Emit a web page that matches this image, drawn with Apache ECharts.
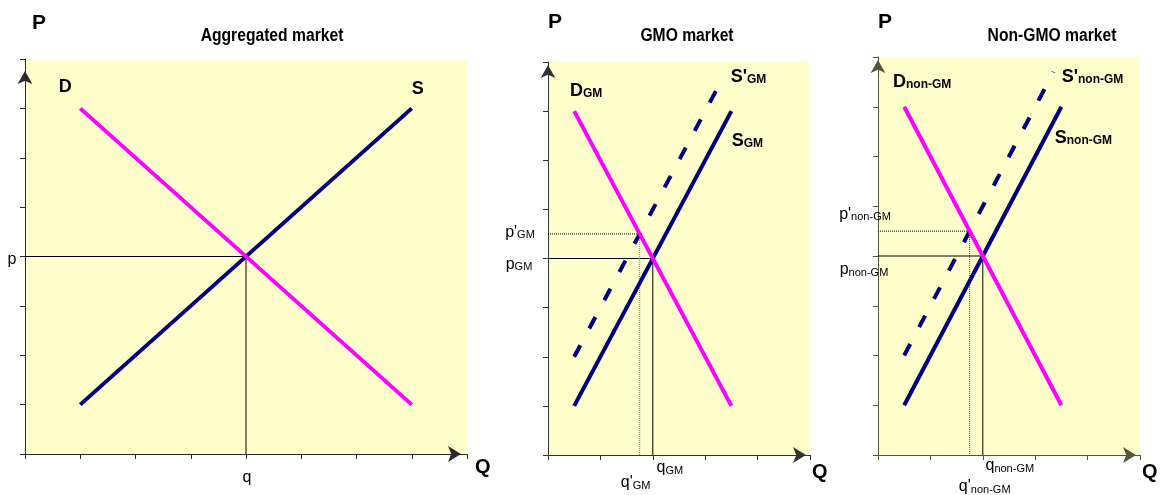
<!DOCTYPE html>
<html><head><meta charset="utf-8">
<script src="https://cdn.jsdelivr.net/npm/echarts@6/dist/echarts.min.js"></script>
<style>html,body{margin:0;padding:0;background:#fff}#c{width:1165px;height:495px}</style>
</head><body><div id="c"></div>
<script>
// ---------- data ----------
const titles = ['Aggregated market', 'GMO market', 'Non-GMO market'];
const xRanges = [[0, 8], [0, 5], [0, 5]];
const yRanges = [[0, 8], [0, 8], [0, 8]];

// Aggregated market
const aggDemand = [[1, 7], [7, 1]];
const aggSupply = [[1, 1], [7, 7]];
const aggEq = [4, 4];              // [q, p]
// GMO market
const gmDemand = [[0.5, 7], [3.5, 1]];
const gmSupply = [[0.5, 1], [3.5, 7]];
const gmSupplyShift = [[0.5, 2], [3.35, 7.7]];
const gmEq = [2, 4];
const gmEqShift = [1.75, 4.5];
// Non-GMO market
const ngDemand = [[0.5, 7], [3.5, 1]];
const ngSupply = [[0.5, 1], [3.5, 7]];
const ngSupplyShift = [[0.5, 2], [3.35, 7.7]];
const ngEq = [2, 4];
const ngEqShift = [1.75, 4.5];

// text labels (rich markup: m = main, s = subscript, r = regular, t = regular subscript)
const aggText = {D: '{m|D}', S: '{m|S}', p: '{r|p}', q: '{r|q}'};
const gmText = {D: '{m|D}{s|GM}', S: '{m|S}{s|GM}', S2: "{m|S'}{s|GM}",
  p: '{r|p}{t|GM}', p2: "{r|p'}{t|GM}", q: '{r|q}{t|GM}', q2: "{r|q'}{t|GM}"};
const ngText = {D: '{m|D}{s|non-GM}', S: '{m|S}{s|non-GM}', S2: "{m|S'}{s|non-GM}",
  p: '{r|p}{t|non-GM}', p2: "{r|p'}{t|non-GM}", q: '{r|q}{t|non-GM}', q2: "{r|q'}{t|non-GM}"};

// ---------- styling ----------
const F = 'Liberation Sans, Arial, Helvetica, sans-serif';
const MAG = '#FF00FF', NAVY = '#000080';
const rich = {
  m: {fontFamily: F, fontSize: 18, fontWeight: 'bold', color: '#000', verticalAlign: 'bottom', lineHeight: 18},
  s: {fontFamily: F, fontSize: 12, fontWeight: 'bold', color: '#000', verticalAlign: 'bottom', lineHeight: 4},
  r: {fontFamily: F, fontSize: 16, color: '#000', verticalAlign: 'bottom', lineHeight: 16},
  t: {fontFamily: F, fontSize: 11, color: '#000', verticalAlign: 'bottom', lineHeight: 3}
};
function lab(text, dx, dy) {
  return {show: true, position: 'inside', offset: [dx, dy], formatter: text, rich: rich,
    align: 'center', verticalAlign: 'middle'};
}
function pt(v, label) { return label ? {value: v, label: label} : {value: v}; }
function line(g, data, color, width, type, z) {
  return {type: 'line', xAxisIndex: g, yAxisIndex: g, data: data, z: z || 2,
    symbol: 'circle', symbolSize: 1, showSymbol: true, itemStyle: {color: 'rgba(0,0,0,0)'},
    lineStyle: {color: color, width: width, type: type || 'solid', cap: 'butt'},
    label: {show: false}, silent: true, animation: false};
}
const axisCols = ['#2a2a2a', '#333333', '#55553f'];
const grids = [
  {left: 25, top: 59, width: 442, height: 395},
  {left: 548, top: 62, width: 262, height: 393},
  {left: 878, top: 57, width: 262, height: 398}
];
const arrowOff = [[-12, -6], [-3, -4], [-3, -4]];
const pNamePad = [7, 0, 0];
const pNameGap = [25, 29, 24];

const xAxes = [], yAxes = [];
for (let i = 0; i < 3; i++) {
  xAxes.push({gridIndex: i, type: 'value', min: xRanges[i][0], max: xRanges[i][1], interval: 1,
    axisLine: {show: true, onZero: false, symbol: ['none', 'arrow'], symbolSize: [12, 13], symbolOffset: [0, arrowOff[i][1]],
      lineStyle: {color: axisCols[i], width: 1}},
    axisTick: {show: true, inside: false, length: 5, lineStyle: {color: axisCols[i]}},
    axisLabel: {show: false}, splitLine: {show: false},
    name: 'Q', nameLocation: 'end', nameGap: i === 0 ? 8 : 2,
    nameTextStyle: {fontFamily: F, fontSize: 20, fontWeight: 'bold', color: '#000', verticalAlign: 'top', padding: [i === 0 ? 3 : 7, 0, 0, 0]}});
  yAxes.push({gridIndex: i, type: 'value', min: yRanges[i][0], max: yRanges[i][1], interval: 1,
    axisLine: {show: true, onZero: false, symbol: ['none', 'arrow'], symbolSize: [11, 13], symbolOffset: [0, arrowOff[i][0]],
      lineStyle: {color: axisCols[i], width: 1}},
    axisTick: {show: true, inside: false, length: 5, lineStyle: {color: axisCols[i]}},
    axisLabel: {show: false}, splitLine: {show: false},
    name: 'P', nameLocation: 'end', nameGap: pNameGap[i],
    nameTextStyle: {fontFamily: F, fontSize: 21, fontWeight: 'bold', color: '#000', align: 'left', padding: [0, 0, 0, pNamePad[i]]}});
}

const series = [
  // Aggregated
  line(0, [pt([0, aggEq[1]], lab(aggText.p, -13, 3)), pt([aggEq[0], aggEq[1]]), pt([aggEq[0], 0], lab(aggText.q, 1, 24))], '#000', 1, 'solid', 1),
  line(0, [pt(aggSupply[0]), pt(aggSupply[1], lab(aggText.S, 6, -19))], NAVY, 4),
  line(0, [pt(aggDemand[0], lab(aggText.D, -15, -21)), pt(aggDemand[1])], MAG, 4, 'solid', 3),
  // GMO
  line(1, [pt([0, gmEq[1]], lab(gmText.p, -29, 6)), pt([gmEq[0], gmEq[1]]), pt([gmEq[0], 0], lab(gmText.q, 17, 13))], '#000', 1, 'solid', 1),
  line(1, [pt([0, gmEqShift[1]], lab(gmText.p2, -28, -1)), pt([gmEqShift[0], gmEqShift[1]])], '#000', 1, 'dotted', 1),
  line(1, [pt([gmEqShift[0], gmEqShift[1]]), pt([gmEqShift[0], 0], lab(gmText.q2, -4, 28))], '#777', 1, 'dotted', 1),
  line(1, [pt(gmSupplyShift[0]), pt(gmSupplyShift[1], lab(gmText.S2, 25, 0))], NAVY, 4, [13, 19]),
  line(1, [pt(gmSupply[0]), pt(gmSupply[1], lab(gmText.S, 16, 30))], NAVY, 4),
  line(1, [pt(gmDemand[0], lab(gmText.D, 12, -20)), pt(gmDemand[1])], MAG, 4, 'solid', 3),
  // Non-GMO
  line(2, [pt([0, ngEq[1]], lab(ngText.p, -14, 14)), pt([ngEq[0], ngEq[1]]), pt([ngEq[0], 0], lab(ngText.q, 27, 11))], '#000', 1, 'solid', 1),
  line(2, [pt([0, ngEqShift[1]], lab(ngText.p2, -13, -17)), pt([ngEqShift[0], ngEqShift[1]])], '#000', 1, 'dotted', 1),
  line(2, [pt([ngEqShift[0], ngEqShift[1]]), pt([ngEqShift[0], 0], lab(ngText.q2, 15, 32))], '#333', 1, 'dotted', 1),
  line(2, [pt(ngSupplyShift[0]), pt(ngSupplyShift[1], lab(ngText.S2, 39, 5))], NAVY, 4, [13, 19]),
  line(2, [pt(ngSupply[0]), pt(ngSupply[1], lab(ngText.S, 22, 31))], NAVY, 4),
  line(2, [pt(ngDemand[0], lab(ngText.D, 18, -25)), pt(ngDemand[1])], MAG, 4, 'solid', 3)
];

const titleX = [272, 687, 1052];
const graphic = titles.map((t, i) => ({type: 'text', x: titleX[i], y: 36, scaleX: 0.87, silent: true,
  style: {text: t, x: 0, y: 0, align: 'center', verticalAlign: 'middle', fontFamily: F, fontSize: 18, fontWeight: 'bold', fill: '#000'}}));

const chart = echarts.init(document.getElementById('c'), null, {renderer: 'canvas'});
chart.setOption({
  animation: false,
  backgroundColor: '#fff',
  grid: grids.map(g => Object.assign({show: true, backgroundColor: '#FFFFCC', borderWidth: 0, containLabel: false}, g)),
  xAxis: xAxes, yAxis: yAxes, series: series, graphic: graphic
});
</script></body></html>
